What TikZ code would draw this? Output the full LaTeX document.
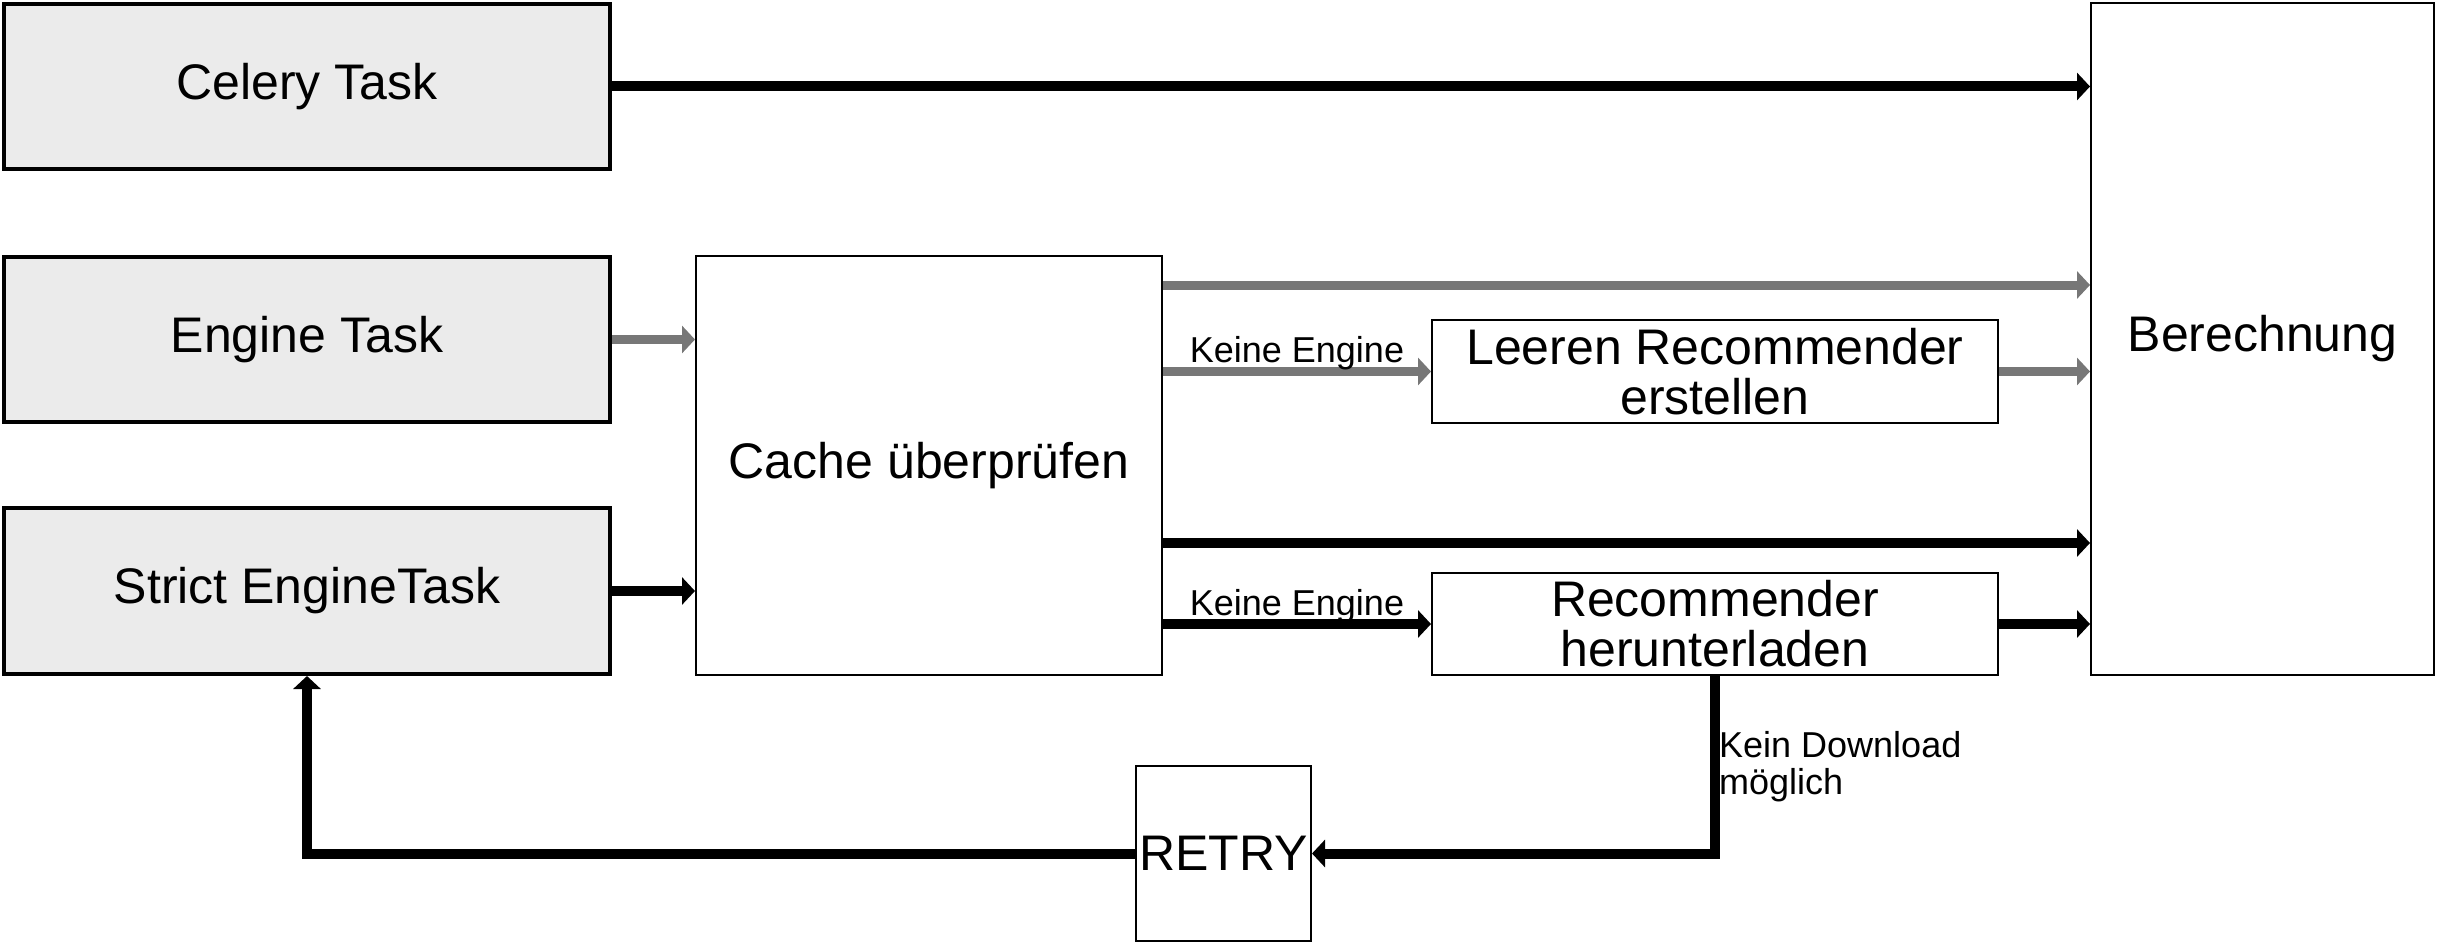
\documentclass[tikz,border=0pt]{standalone}
\usepackage{fontspec}
\setmainfont{Liberation Sans}
\usetikzlibrary{arrows.meta,calc}
\definecolor{boxgray}{HTML}{EBEBEB}
\definecolor{arrgray}{HTML}{777777}
\tikzset{
  taskbox/.style={draw=black, line width=4pt, fill=boxgray, inner sep=0pt,
    font=\fontsize{50}{50}\selectfont, align=center},
  procbox/.style={draw=black, line width=2pt, fill=white, inner sep=0pt,
    font=\fontsize{50}{50}\selectfont, align=center},
  blackarrow/.style={draw=black, line width=10pt, -{Triangle[length=13pt,width=27pt]}},
  grayarrow/.style={draw=arrgray, line width=9pt, -{Triangle[length=13pt,width=27pt]}},
  elabel/.style={font=\fontsize{36}{37}\selectfont, inner sep=0pt, text=black},
}
\begin{document}
\begin{tikzpicture}[x=1pt,y=-1pt]
\useasboundingbox (0,0) rectangle (2437,944);
% boxes
\node[taskbox, minimum width=606pt, minimum height=165pt] (celery) at (307,86.5) {Celery Task};
\node[taskbox, minimum width=606pt, minimum height=165pt] (engine) at (307,339.5) {Engine Task};
\node[taskbox, minimum width=606pt, minimum height=166pt] (strict) at (307,591) {Strict EngineTask};
\node[procbox, minimum width=466pt, minimum height=419pt] (cache) at (929,465.5) {Cache überprüfen};
\node[procbox, minimum width=566pt, minimum height=103pt] (leeren) at (1715,371.5) {Leeren Recommender\\erstellen};
\node[procbox, minimum width=566pt, minimum height=102pt] (recdl) at (1715,624) {Recommender\\herunterladen};
\node[procbox, minimum width=343pt, minimum height=672pt] (calc) at (2262.5,339) {Berechnung};
\node[procbox, minimum width=175pt, minimum height=175pt] (retry) at (1223.5,853.5) {RETRY};
% helper coordinates on cache's right side
\coordinate (cgray) at ($(cache.north east)+(0,30)$);
\coordinate (cblack) at ($(cache.north east)+(0,288)$);
% connectors
\draw[blackarrow] (celery.east) -- (celery.east -| calc.west);
\draw[grayarrow] (engine.east) -- (engine.east -| cache.west);
\draw[blackarrow] (strict.east) -- (strict.east -| cache.west);
\draw[grayarrow] (cgray) -- (cgray -| calc.west);
\draw[grayarrow] (cache.east |- leeren.west) -- node[elabel, midway, anchor=base, yshift=9pt] {Keine Engine} (leeren.west);
\draw[grayarrow] (leeren.east) -- (leeren.east -| calc.west);
\draw[blackarrow] (cblack) -- (cblack -| calc.west);
\draw[blackarrow] (cache.east |- recdl.west) -- node[elabel, midway, anchor=base, yshift=9pt] {Keine Engine} (recdl.west);
\draw[blackarrow] (recdl.east) -- (recdl.east -| calc.west);
\draw[blackarrow] (recdl.south) |- (retry.east);
\draw[blackarrow] (retry.west) -| (strict.south);
\node[elabel, anchor=north west, align=left] (kd) at ($(recdl.south)+(4,55)$) {Kein Download\\möglich};
\end{tikzpicture}
\end{document}
